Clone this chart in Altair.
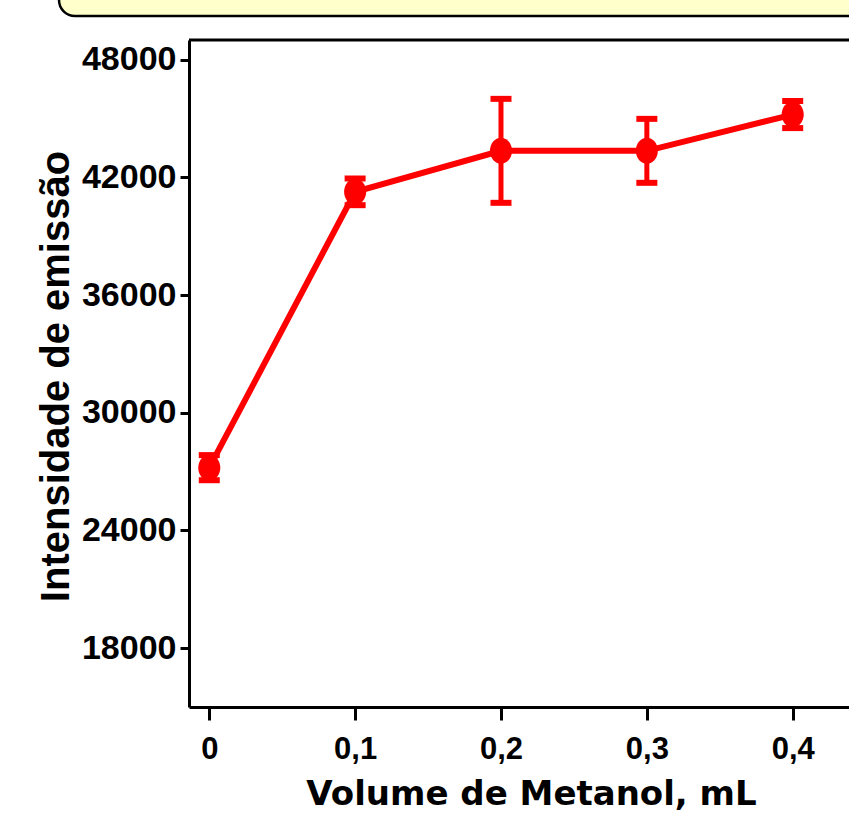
import altair as alt
import pandas as pd

# Data
volume = [0.0, 0.1, 0.2, 0.3, 0.4]
intensity = [27200, 41260, 43350, 43350, 45200]
error = [640, 680, 2650, 1630, 690]

x_ticks = [0.0, 0.1, 0.2, 0.3, 0.4]
y_ticks = [18000, 24000, 30000, 36000, 42000, 48000]

df = pd.DataFrame({"volume": volume, "intensity": intensity, "error": error})
df["lo"] = df["intensity"] - df["error"]
df["hi"] = df["intensity"] + df["error"]

RED = "#FF0000"
W, H = 660, 667

x_scale = alt.Scale(domain=[-0.0139, 0.4386], nice=False, zero=False)
y_scale = alt.Scale(domain=[15000, 49000], nice=False, zero=False)

x_axis = alt.Axis(
    values=x_ticks,
    labelExpr="datum.value == 0 ? '0' : replace(format(datum.value, '.1f'), '.', ',')",
    title="Volume de Metanol, mL",
    titleFont="DejaVu Sans",
    titleFontSize=34,
    titleFontWeight="bold",
    titleColor="black",
    titleX=342,
    titleY=97,
    titleBaseline="alphabetic",
    titleAlign="center",
    labelFont="Liberation Sans",
    labelFontSize=31,
    labelFontWeight="bold",
    labelColor="black",
    labelPadding=14,
    tickSize=13,
    tickWidth=3,
    tickColor="black",
    domainWidth=3,
    domainColor="black",
    grid=False,
)

y_axis = alt.Axis(
    values=y_ticks,
    format="d",
    title="Intensidade de emissão",
    titleFont="Liberation Sans",
    titleFontSize=40,
    titleFontWeight="bold",
    titleColor="black",
    titleAngle=-90,
    titleX=-121,
    titleY=336,
    titleBaseline="alphabetic",
    titleAlign="center",
    labelFont="Liberation Sans",
    labelFontSize=34,
    labelFontWeight="bold",
    labelColor="black",
    labelPadding=4,
    tickSize=9,
    tickWidth=3,
    tickColor="black",
    domainWidth=3,
    domainColor="black",
    grid=False,
)

base = alt.Chart(df)

line = base.mark_line(color=RED, strokeWidth=6).encode(
    x=alt.X("volume:Q", scale=x_scale, axis=x_axis),
    y=alt.Y("intensity:Q", scale=y_scale, axis=y_axis),
)

bars = base.mark_rule(color=RED, strokeWidth=5).encode(
    x="volume:Q", y="lo:Q", y2="hi:Q"
)

cap_lo = base.mark_tick(color=RED, orient="horizontal", size=21, thickness=6, opacity=1).encode(
    x="volume:Q", y="lo:Q"
)
cap_hi = base.mark_tick(color=RED, orient="horizontal", size=21, thickness=6, opacity=1).encode(
    x="volume:Q", y="hi:Q"
)

points = base.mark_point(
    shape="M0,-1A0.85,1,0,1,1,0,1A0.85,1,0,1,1,0,-1Z",
    size=676,
    filled=True,
    color=RED,
    opacity=1,
).encode(x="volume:Q", y="intensity:Q")

one = alt.Data(values=[{"k": 1}])

top_frame = alt.Chart(one).mark_rule(color="black", strokeWidth=3).encode(
    x=alt.value(0), x2=alt.value(W + 5), y=alt.value(0)
)

banner = alt.Chart(one).mark_rect(
    fill="#FFFFCC", stroke="black", strokeWidth=2.5, cornerRadius=16
).encode(
    x=alt.value(-130), x2=alt.value(W + 40), y=alt.value(-90), y2=alt.value(-24)
)

chart = alt.layer(banner, top_frame, line, bars, cap_lo, cap_hi, points).properties(
    width=W,
    height=H,
    autosize=alt.AutoSizeParams(type="none"),
    padding={"left": 189, "top": 40, "right": 0, "bottom": 106},
    background="white",
).configure_view(stroke=None)

chart.save("out.html", embed_options={"renderer": "svg", "actions": False})
